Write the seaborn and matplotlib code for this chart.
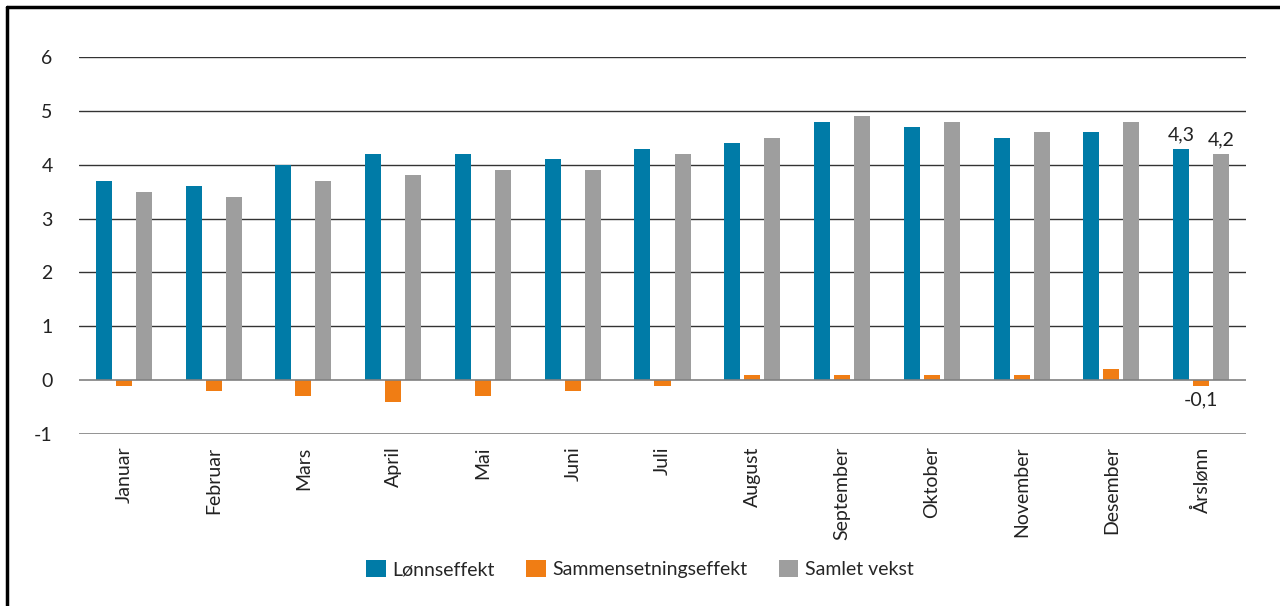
import matplotlib
matplotlib.use('Agg')
import matplotlib.pyplot as plt
from matplotlib.lines import Line2D
import numpy as np
import pandas as pd
import seaborn as sns

months = ['Januar', 'Februar', 'Mars', 'April', 'Mai', 'Juni', 'Juli', 'August',
          'September', 'Oktober', 'November', 'Desember', 'Årslønn']
lonnseffekt = [3.7, 3.6, 4.0, 4.2, 4.2, 4.1, 4.3, 4.4, 4.8, 4.7, 4.5, 4.6, 4.3]
sammensetning = [-0.1, -0.2, -0.3, -0.4, -0.3, -0.2, -0.1, 0.1, 0.1, 0.1, 0.1, 0.2, -0.1]
samlet = [3.5, 3.4, 3.7, 3.8, 3.9, 3.9, 4.2, 4.5, 4.9, 4.8, 4.6, 4.8, 4.2]
series_names = ['Lønnseffekt', 'Sammensetningseffekt', 'Samlet vekst']

colors = {'Lønnseffekt': '#007BA7', 'Sammensetningseffekt': '#F07D14', 'Samlet vekst': '#9E9E9E'}

df = pd.DataFrame({'Måned': months * 3,
                   'Serie': [series_names[0]] * len(months) + [series_names[1]] * len(months) + [series_names[2]] * len(months),
                   'Verdi': lonnseffekt + sammensetning + samlet})

sns.set_style('white')
plt.rcParams['font.family'] = ['Lato', 'DejaVu Sans']
fs = 14

fig = plt.figure(figsize = (12.8, 6.06), dpi = 100)
ax = fig.add_axes([79 / 1280, 1 - 434 / 606, (1246 - 79) / 1280, (434 - 57) / 606])

sns.barplot(x = 'Måned', y = 'Verdi', hue = 'Serie', data = df, order = months, hue_order = series_names,
            palette = colors, width = 0.67, gap = 0.2, saturation = 1, linewidth = 0,
            ax = ax, legend = True, zorder = 3)

ax.set_ylim(-1, 6)
ax.set_xlim(-0.5, len(months) - 0.5)
for y in range(1, 7):
    ax.axhline(y, color = '#333333', lw = 1.0, zorder = 1)
ax.axhline(0, color = '#808080', lw = 1.2, zorder = 4)
ax.axhline(-1, color = '#808080', lw = 1.2, zorder = 1)
for s in ax.spines.values():
    s.set_visible(False)

ax.set_yticks(range(-1, 7))
ax.set_yticklabels([str(v) for v in range(-1, 7)], fontsize = fs, color = '#222222')
ax.tick_params(axis = 'y', length = 0, pad = 19)
ax.tick_params(axis = 'x', length = 0, pad = 9)
plt.setp(ax.get_xticklabels(), rotation = 90, fontsize = fs, color = '#222222')
ax.set_xlabel('')
ax.set_ylabel('')

# value labels for Årslønn
def fmt(v):
    return ('%.1f' % v).replace('.', ',')

for cont, vals in zip(ax.containers, [lonnseffekt, sammensetning, samlet]):
    labels = [''] * (len(months) - 1) + [fmt(vals[-1])]
    ax.bar_label(cont, labels = labels, padding = 4, fontsize = fs, color = '#222222')

handles, labels = ax.get_legend_handles_labels()
ax.legend_.remove()
fig.legend(handles, labels, loc = 'center', bbox_to_anchor = (0.5, 1 - 569 / 606), ncol = 3,
           frameon = False, fontsize = fs, handlelength = 1.0, handleheight = 1.0,
           handletextpad = 0.35, columnspacing = 1.6)

# border at top and left of the figure
fig.add_artist(Line2D([7 / 1280, 7 / 1280], [0, 1 - 7 / 606], color = 'black', lw = 2.5, transform = fig.transFigure))
fig.add_artist(Line2D([7 / 1280, 1], [1 - 7 / 606, 1 - 7 / 606], color = 'black', lw = 2.5, transform = fig.transFigure))

fig.savefig('out.png', dpi = 100)
